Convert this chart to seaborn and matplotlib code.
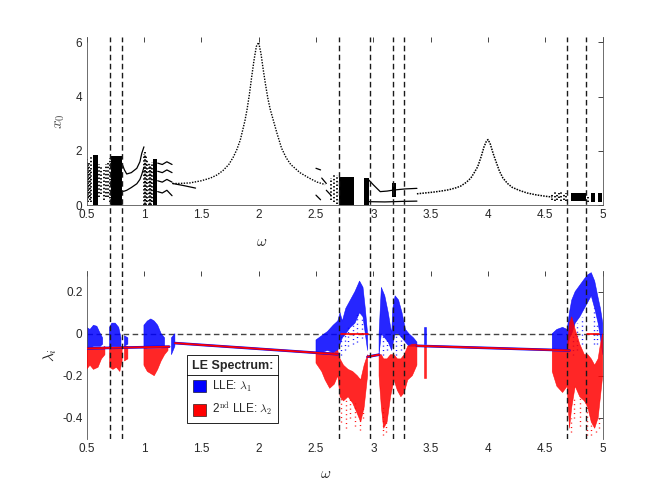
import numpy as np
import matplotlib
matplotlib.use('Agg')
import matplotlib.pyplot as plt
from matplotlib.patches import Patch
import seaborn as sns

nan = np.nan

# ---------------- top panel: bifurcation diagram x0(omega) ----------------
# period-1 resonance branch around omega = 2
res1_w = [1.25, 1.30, 1.40, 1.50, 1.58, 1.64, 1.69, 1.74, 1.78, 1.81, 1.84, 1.86,
          1.88, 1.90, 1.92, 1.94, 1.96, 1.98, 2.00, 2.02, 2.04, 2.06, 2.08, 2.10,
          2.13, 2.16, 2.20, 2.24, 2.28, 2.36, 2.44, 2.51, 2.58]
res1_x = [0.80, 0.80, 0.82, 0.90, 1.00, 1.12, 1.28, 1.50, 1.78, 2.05, 2.40, 2.75,
          3.10, 3.55, 4.10, 4.75, 5.35, 5.85, 6.00, 5.60, 5.00, 4.45, 3.95, 3.55,
          3.10, 2.65, 2.10, 1.75, 1.50, 1.20, 1.00, 0.85, 0.76]
# period-1 branch around omega = 4
res2_w = [3.38, 3.45, 3.52, 3.59, 3.66, 3.72, 3.76, 3.81, 3.85, 3.88, 3.91, 3.94,
          3.965, 3.985, 4.00, 4.02, 4.045, 4.07, 4.10, 4.13, 4.17, 4.21, 4.27, 4.34,
          4.42, 4.50, 4.56]
res2_x = [0.42, 0.45, 0.48, 0.52, 0.57, 0.64, 0.70, 0.84, 1.00, 1.20, 1.42, 1.79,
          2.15, 2.35, 2.42, 2.25, 1.90, 1.60, 1.25, 1.00, 0.80, 0.66, 0.55, 0.45,
          0.38, 0.33, 0.30]

# solid chaotic bands
band_lo = [0.553, 0.712, 1.080, 2.700, 2.915, 3.165, 4.720, 4.900, 4.960]
band_hi = [0.602, 0.807, 1.115, 2.835, 2.960, 3.200, 4.850, 4.930, 4.990]
band_bot = [0.0, 0.0, 0.0, 0.0, 0.0, 0.30, 0.15, 0.10, 0.10]
band_top = [1.85, 1.80, 1.70, 1.05, 1.00, 0.80, 0.45, 0.45, 0.45]

# sparse (dotted) chaotic columns
col_w = [0.50, 0.51, 0.52, 0.53, 0.54, 0.61, 0.63, 0.65, 0.67, 0.69, 0.705,
         1.00, 1.01, 1.02, 1.03, 1.04, 1.05, 1.06, 1.07, 2.63, 2.66, 2.68,
         4.56, 4.58, 4.60, 4.62, 4.64, 4.66, 4.68, 4.87]
col_lo = [0.20, 0.10, 0.30, 0.20, 0.10, 0.30, 0.40, 0.20, 0.30, 0.30, 0.10,
          0.00, 0.05, 0.00, 0.10, 0.00, 0.05, 0.00, 0.10, 0.20, 0.10, 0.05,
          0.20, 0.15, 0.20, 0.25, 0.15, 0.20, 0.15, 0.10]
col_hi = [1.70, 1.50, 1.60, 1.30, 1.80, 1.50, 1.40, 1.30, 1.50, 1.60, 1.75,
          1.90, 1.95, 1.80, 1.70, 1.60, 1.50, 1.45, 1.60, 1.00, 1.10, 1.10,
          0.45, 0.50, 0.40, 0.45, 0.50, 0.40, 0.45, 0.30]

# short periodic branches (segments separated by nan)
br_w = [0.807, 0.83, 0.85, 0.89, 0.938, 0.965, 0.981, 1.00, nan,
        0.807, 0.83, 0.85, 0.89, 0.938, 0.965, 0.981, 1.00, nan,
        1.12, 1.16, 1.20, 1.245, nan,
        1.12, 1.16, 1.20, 1.245, nan,
        1.12, 1.16, 1.20, 1.245, nan,
        1.12, 1.16, 1.20, 1.245, nan,
        1.25, 1.35, 1.45, nan,
        2.96, 3.00, 3.06, 3.12, 3.18, 3.28, 3.38, nan,
        2.96, 3.10, 3.25, 3.38, nan,
        2.50, 2.54, nan, 2.55, 2.59, nan, 2.50, 2.54, nan, 2.59, 2.63]
br_x = [1.55, 1.30, 1.15, 1.20, 1.36, 1.60, 1.91, 2.15, nan,
        0.50, 0.52, 0.55, 0.65, 0.79, 0.95, 1.13, 1.40, nan,
        1.55, 1.50, 1.60, 1.50, nan,
        1.25, 1.20, 1.30, 1.20, nan,
        0.90, 0.85, 0.95, 0.85, nan,
        0.50, 0.45, 0.55, 0.35, nan,
        0.80, 0.72, 0.63, nan,
        0.93, 0.75, 0.50, 0.52, 0.56, 0.60, 0.62, nan,
        0.13, 0.12, 0.14, 0.15, nan,
        1.36, 1.30, nan, 1.00, 0.80, nan, 0.37, 0.20, nan, 0.55, 0.37]

# omega values of the dashed marker lines
dash_w = [0.70, 0.81, 2.70, 2.97, 3.17, 3.27, 4.69, 4.85]

# ---------------- bottom panel: Lyapunov exponents ----------------
b_w = [0.50, 0.53, 0.56, 0.59, 0.62, 0.64, nan,
       0.70, 0.72, 0.75, 0.78, 0.80, nan,
       0.83, 0.86, nan,
       1.00, 1.03, 1.06, 1.09, 1.12, 1.15, 1.18, nan,
       1.24, 1.27, nan,
       2.50, 2.55, 2.60, 2.65, 2.69, 2.71, 2.73, 2.76, 2.80, 2.84, 2.88, 2.91, 2.93, 2.95, nan,
       3.05, 3.07, 3.10, 3.13, 3.16, 3.17, 3.19, 3.22, 3.25, 3.28, 3.31, 3.35, 3.38, nan,
       3.44, 3.46, nan,
       4.56, 4.60, 4.65, 4.69, 4.71, 4.73, 4.76, 4.80, 4.84, 4.87, 4.90, 4.93, 4.96, 4.98, 5.00]
b_lo = [-0.06, -0.07, -0.06, -0.06, -0.06, -0.05, nan,
        -0.07, -0.06, -0.06, -0.06, -0.06, nan,
        -0.06, -0.05, nan,
        -0.06, -0.06, -0.06, -0.06, -0.06, -0.06, -0.06, nan,
        -0.10, -0.06, nan,
        -0.09, -0.09, -0.08, -0.09, -0.08, -0.05, -0.02, 0.00, 0.03, 0.05, 0.10, 0.08, 0.00, -0.08, nan,
        -0.10, 0.00, -0.02, -0.04, -0.08, -0.05, 0.00, 0.00, -0.02, -0.04, -0.06, -0.06, -0.06, nan,
        -0.05, -0.05, nan,
        -0.08, -0.08, -0.08, -0.08, -0.02, 0.00, 0.05, 0.08, 0.12, 0.15, 0.18, 0.12, 0.05, -0.02, -0.10]
b_hi = [0.03, 0.02, 0.04, 0.035, 0.00, -0.02, nan,
        0.03, 0.05, 0.05, 0.03, -0.02, nan,
        -0.01, -0.02, nan,
        0.04, 0.06, 0.07, 0.06, 0.04, 0.00, -0.02, nan,
        -0.02, 0.00, nan,
        -0.03, -0.01, 0.01, 0.04, 0.06, 0.10, 0.06, 0.12, 0.16, 0.20, 0.25, 0.22, 0.12, 0.00, nan,
        0.00, 0.22, 0.18, 0.10, 0.00, 0.12, 0.18, 0.16, 0.10, 0.02, 0.00, -0.02, -0.04, nan,
        0.03, 0.03, nan,
        0.00, 0.02, 0.03, 0.02, 0.10, 0.16, 0.20, 0.23, 0.26, 0.28, 0.29, 0.25, 0.17, 0.12, 0.05]

r_w = [0.50, 0.53, 0.56, 0.60, 0.63, 0.66, nan,
       0.70, 0.73, 0.76, 0.79, 0.81, nan,
       0.83, 0.86, nan,
       1.00, 1.03, 1.06, 1.09, 1.12, 1.15, 1.18, 1.21, nan,
       2.50, 2.55, 2.58, 2.62, 2.66, 2.69, 2.71, 2.74, 2.78, 2.82, 2.86, 2.89, 2.92, 2.95, nan,
       3.05, 3.07, 3.09, 3.12, 3.15, 3.18, 3.21, 3.24, 3.27, 3.30, 3.34, 3.38, nan,
       3.44, 3.46, nan,
       4.56, 4.60, 4.65, 4.69, 4.71, 4.73, 4.76, 4.80, 4.84, 4.87, 4.90, 4.93, 4.96, 4.98, 5.00]
r_lo = [-0.17, -0.15, -0.17, -0.16, -0.12, -0.10, nan,
        -0.16, -0.17, -0.16, -0.18, -0.13, nan,
        -0.13, -0.12, nan,
        -0.15, -0.18, -0.19, -0.20, -0.17, -0.13, -0.10, -0.08, nan,
        -0.14, -0.18, -0.22, -0.26, -0.24, -0.20, -0.30, -0.32, -0.30, -0.33, -0.38, -0.42, -0.35, -0.20, nan,
        -0.20, -0.35, -0.45, -0.42, -0.30, -0.22, -0.27, -0.30, -0.28, -0.22, -0.20, -0.15, nan,
        -0.21, -0.21, nan,
        -0.18, -0.25, -0.28, -0.25, -0.45, -0.35, -0.25, -0.30, -0.32, -0.35, -0.42, -0.45, -0.40, -0.30, -0.20]
r_hi = [-0.07, -0.07, -0.07, -0.07, -0.07, -0.06, nan,
        -0.06, -0.07, -0.07, -0.07, -0.06, nan,
        -0.06, -0.06, nan,
        -0.06, -0.07, -0.07, -0.07, -0.07, -0.07, -0.06, -0.06, nan,
        -0.09, -0.09, -0.09, -0.09, -0.09, -0.08, -0.12, -0.15, -0.17, -0.18, -0.20, -0.22, -0.15, -0.10, nan,
        -0.10, -0.10, -0.12, -0.12, -0.10, -0.10, -0.12, -0.12, -0.10, -0.06, -0.05, -0.05, nan,
        -0.06, -0.06, nan,
        -0.08, -0.08, -0.08, -0.08, 0.05, 0.08, 0.02, -0.05, -0.10, -0.10, -0.12, -0.15, -0.12, -0.05, 0.00]

# scattered outlier dots around the dense clouds
bs_w = [2.72, 2.75, 2.78, 2.82, 2.86, 2.90, 3.08, 3.12, 3.20, 3.24, 4.74, 4.78, 4.82, 4.92, 4.95]
bs_lo = [-0.10, -0.08, -0.06, -0.05, -0.04, -0.02, -0.10, -0.08, -0.10, -0.08, -0.10, -0.08, -0.05, -0.05, -0.05]
bs_hi = [0.00, 0.00, 0.03, 0.05, 0.10, 0.08, 0.00, -0.02, 0.00, 0.00, 0.00, 0.05, 0.08, 0.12, 0.05]
rs_w = [2.72, 2.76, 2.80, 2.84, 2.88, 2.91, 3.08, 3.11, 4.72, 4.75, 4.80, 4.86, 4.90, 4.94, 4.97]
rs_lo = [-0.42, -0.45, -0.40, -0.44, -0.46, -0.40, -0.48, -0.47, -0.47, -0.40, -0.44, -0.48, -0.48, -0.47, -0.45]
rs_hi = [-0.30, -0.30, -0.30, -0.33, -0.40, -0.35, -0.35, -0.42, -0.40, -0.30, -0.30, -0.35, -0.42, -0.45, -0.40]

# periodic windows: lambda1 = lambda2
per_w = [0.50, 1.22, nan, 1.27, 2.69, nan, 2.95, 3.05, nan, 3.38, 4.71]
per_l = [-0.070, -0.062, nan, -0.045, -0.098, nan, -0.110, -0.100, nan, -0.058, -0.080]
# chaotic windows where lambda2 sits on zero
zero_w = [2.72, 2.95, nan, 4.86, 4.97]
zero_l = [0.0, 0.0, nan, 0.0, 0.0]

for a, b in [(b_w, b_lo), (b_w, b_hi), (r_w, r_lo), (r_w, r_hi), (br_w, br_x)]:
    assert len(a) == len(b)

xticks = [0.5, 1, 1.5, 2, 2.5, 3, 3.5, 4, 4.5, 5]
xtick_labels = ['0.5', '1', '1.5', '2', '2.5', '3', '3.5', '4', '4.5', '5']

sns.set_style('white')
plt.rcParams['font.family'] = ['Liberation Sans', 'DejaVu Sans']
plt.rcParams['mathtext.fontset'] = 'cm'
plt.rcParams['axes.unicode_minus'] = False

ink = '#262626'
fig = plt.figure(figsize=(6.66, 4.93), dpi=100)
ax1 = fig.add_axes([0.13, 0.5838, 0.775, 0.3412])
ax2 = fig.add_axes([0.13, 0.11, 0.775, 0.3412])

# ----- top -----
for lo, hi, b0, t0 in zip(band_lo, band_hi, band_bot, band_top):
    ax1.fill_between([lo, hi], [b0, b0], [t0, t0], color='black', lw=0)
ax1.vlines(col_w, col_lo, col_hi, colors='black', lw=1.3, linestyles=(0, (0.8, 1.2)))
ax1.plot(br_w, br_x, color='black', lw=0.9)
sns.lineplot(x=res1_w, y=res1_x, ax=ax1, color='black', lw=1.0, sort=False,
             estimator=None, linestyle=(0, (1, 1)))
sns.lineplot(x=res2_w, y=res2_x, ax=ax1, color='black', lw=1.1, sort=False,
             estimator=None, linestyle=(0, (1, 0.8)))
ax1.set_xlim(0.5, 5)
ax1.set_ylim(0, 6.2)
ax1.set_yticks([0, 2, 4, 6])
ax1.set_ylabel('$x_0$', fontsize=11, color='#505050', labelpad=6)
ax1.set_xlabel('$\\omega$', fontsize=11, color=ink)
ax1.xaxis.set_label_coords(0.34, -0.18)

# ----- bottom -----
ax2.axhline(0, color='#444444', lw=1.0, dashes=(4, 2.5), zorder=1)
ax2.vlines(bs_w, bs_lo, bs_hi, colors='blue', lw=1.0, linestyles=(0, (0.7, 2.5)), zorder=2)
ax2.vlines(rs_w, rs_lo, rs_hi, colors='red', lw=1.0, linestyles=(0, (0.7, 2.5)), zorder=2)
ax2.fill_between(b_w, b_lo, b_hi, color='blue', lw=0.4, alpha=0.85, zorder=2)
ax2.fill_between(r_w, r_lo, r_hi, color='red', lw=0.4, alpha=0.85, zorder=3)
ax2.plot(per_w, per_l, color='blue', lw=1.9, zorder=3)
ax2.plot(per_w, per_l, color='red', lw=1.3, zorder=4)
ax2.plot(zero_w, zero_l, color='red', lw=1.2, zorder=4)
ax2.set_xlim(0.5, 5)
ax2.set_ylim(-0.5, 0.3)
ax2.set_yticks([-0.4, -0.2, 0, 0.2])
ax2.set_yticklabels(['-0.4', '-0.2', '0', '0.2'])
ax2.set_ylabel('$\\lambda_i$', fontsize=11, color=ink, labelpad=2)
ax2.set_xlabel('$\\omega$', fontsize=11, color=ink)
ax2.xaxis.set_label_coords(0.464, -0.17)

for ax in (ax1, ax2):
    ax.set_xticks(xticks)
    ax.set_xticklabels(xtick_labels)
    ax.tick_params(direction='in', length=3.5, width=0.6, top=True, right=True,
                   labelsize=8.5, colors=ink, pad=3)
    for s in ax.spines.values():
        s.set_color('#555555')
        s.set_linewidth(0.6)
    ax.spines['top'].set_visible(False)
ax2.spines['bottom'].set_visible(False)

handles = [Patch(facecolor='blue', edgecolor='black', lw=0.4),
           Patch(facecolor='red', edgecolor='black', lw=0.4)]
labels = ['LLE: $\\lambda_1$', '2$^{\\rm nd}$ LLE: $\\lambda_2$']
leg = ax2.legend(handles, labels, title='LE Spectrum:', loc='lower left',
                 bbox_to_anchor=(0.1945, 0.094), borderaxespad=0, fontsize=8.5,
                 title_fontproperties={'weight': 'bold', 'size': 9},
                 fancybox=False, framealpha=1, edgecolor='black',
                 handlelength=1.1, handleheight=1.1, handletextpad=0.5,
                 labelspacing=0.6, borderpad=0.4)
leg.get_frame().set_linewidth(0.6)
leg.set_zorder(10)

# dashed marker lines running through both panels
ov = fig.add_axes([0.13, 0.11, 0.775, 0.815])
ov.set_xlim(0.5, 5)
ov.set_ylim(0, 1)
ov.axis('off')
ov.patch.set_alpha(0)
for w in dash_w:
    ov.axvline(w, color='#1a1a1a', lw=1.0, dashes=(4, 2.5))

# separator line under the legend title
fig.canvas.draw()
tb = leg.get_title().get_window_extent()
fb = leg.get_frame().get_window_extent()
inv = fig.transFigure.inverted()
(x0f, yf), (x1f, _) = inv.transform([(fb.x0, tb.y0 - 3), (fb.x1, tb.y0 - 3)])
fig.add_artist(plt.Line2D([x0f, x1f], [yf, yf], color='black', lw=0.6,
                          transform=fig.transFigure, zorder=20))

fig.savefig('out.png', dpi=100)
